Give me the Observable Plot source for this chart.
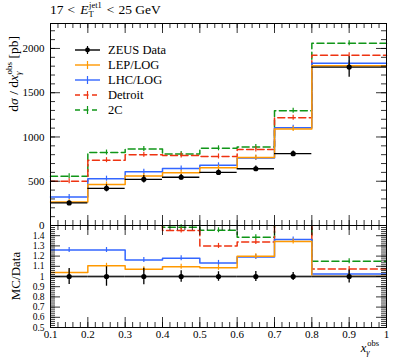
<!DOCTYPE html>
<html><head><meta charset="utf-8">
<script src="https://cdn.jsdelivr.net/npm/d3@7"></script>
<script src="https://cdn.jsdelivr.net/npm/@observablehq/plot@0.6"></script>
<style>
body{margin:0;background:#fff;}
#chart{position:relative;width:399px;height:360px;font-family:"Liberation Serif",serif;}
#chart svg{position:absolute;left:0;}
</style></head>
<body><div id="chart"></div>
<script>
// bins in x_gamma^obs
const binLo = [0.1, 0.2, 0.3, 0.4, 0.5, 0.6, 0.7, 0.8];
const binHi = [0.2, 0.3, 0.4, 0.5, 0.6, 0.7, 0.8, 1.0];
const binCenter = [0.15, 0.25, 0.35, 0.45, 0.55, 0.65, 0.75, 0.9];
// ZEUS data [pb]
const dataY   = [255, 420, 522, 545, 600, 641, 811, 1790];
const dataErr = [20, 40, 42, 31, 28, 32, 32, 116];
// MC predictions [pb]
const lepLog  = [265, 464, 559, 597, 651, 769, 1090, 1805];
const lhcLog  = [321, 529, 606, 643, 680, 763, 1105, 1832];
const detroit = [500, 738, 798, 791, 780, 858, 1218, 1922];
const twoC    = [556, 824, 865, 808, 872, 887, 1297, 2058];
// ticks
const mainYTicks = [0, 500, 1000, 1500, 2000];
const ratioYTicks = [0.5, 0.6, 0.7, 0.8, 0.9, 1, 1.1, 1.2, 1.3, 1.4];
const xTicks = [0.1, 0.2, 0.3, 0.4, 0.5, 0.6, 0.7, 0.8, 0.9, 1];

const series = [
  {name: "2C", vals: twoC, color: "#109618", dash: "7,3.5"},
  {name: "Detroit", vals: detroit, color: "#EE3311", dash: "7,3.5"},
  {name: "LHC/LOG", vals: lhcLog, color: "#3366FF", dash: null},
  {name: "LEP/LOG", vals: lepLog, color: "#FF9900", dash: null}
];

const steps = vals => vals.flatMap((v, i) => [{x: binLo[i], y: v}, {x: binHi[i], y: v}]);
const centers = vals => vals.map((v, i) => ({x: binCenter[i], y: v}));
const dataRows = dataY.map((v, i) => ({lo: binLo[i], hi: binHi[i], x: binCenter[i], y: v, e: dataErr[i], r: 1, re: dataErr[i] / v}));

const minorX = d3.range(0.1, 1.0001, 0.02).map(d => +d.toFixed(2));
const minorMain = d3.range(0, 2201, 100);
const minorRatio = d3.range(0.5, 1.5001, 0.02).map(d => +d.toFixed(2));

const fontFam = "Liberation Serif";
const style = {fontFamily: fontFam, fontSize: "11px", background: "transparent", overflow: "visible", color: "#000"};
const fmt = d => String(+(+d).toFixed(1));

function tickMarks(xMinor, yMajor, yMinor, plotW, plotH) {
  return [
    Plot.tickX(xTicks, {x: d => d, insetTop: plotH - 10, stroke: "#000", strokeWidth: 0.8}),
    Plot.tickX(xTicks, {x: d => d, insetBottom: plotH - 10, stroke: "#000", strokeWidth: 0.8}),
    Plot.tickX(xMinor, {x: d => d, insetTop: plotH - 5, stroke: "#000", strokeWidth: 0.8}),
    Plot.tickX(xMinor, {x: d => d, insetBottom: plotH - 5, stroke: "#000", strokeWidth: 0.8}),
    Plot.tickY(yMajor, {y: d => d, insetRight: plotW - 10, stroke: "#000", strokeWidth: 0.8}),
    Plot.tickY(yMajor, {y: d => d, insetLeft: plotW - 10, stroke: "#000", strokeWidth: 0.8}),
    Plot.tickY(yMinor, {y: d => d, insetRight: plotW - 5, stroke: "#000", strokeWidth: 0.8}),
    Plot.tickY(yMinor, {y: d => d, insetLeft: plotW - 5, stroke: "#000", strokeWidth: 0.8})
  ];
}

const plotW = 399 - 50 - 13;

const mainPlot = Plot.plot({
  width: 399, height: 226,
  marginLeft: 50, marginRight: 13, marginTop: 23, marginBottom: 1,
  x: {domain: [0.1, 1], axis: null},
  y: {domain: [0, 2282], axis: null},
  style,
  marks: [
    ...series.flatMap(s => [
      Plot.line(steps(s.vals), {x: "x", y: "y", stroke: s.color, strokeWidth: 1.5, strokeDasharray: s.dash}),
      Plot.ruleX(centers(s.vals), {x: "x", y1: "y", y2: "y", insetTop: 2.5, insetBottom: 2.5, stroke: s.color, strokeWidth: 1.2})
    ]),
    Plot.ruleY(dataRows, {x1: "lo", x2: "hi", y: "y", stroke: "#000", strokeWidth: 1.3}),
    Plot.ruleX(dataRows, {x: "x", y1: d => d.y - d.e, y2: d => d.y + d.e, stroke: "#000", strokeWidth: 1.3}),
    Plot.dot(dataRows, {x: "x", y: "y", r: 2.6, fill: "#000", stroke: "none"}),
    ...tickMarks(minorX, mainYTicks, minorMain, plotW, 202),
    Plot.axisY({ticks: mainYTicks, tickSize: 0, tickPadding: 6, tickFormat: d => String(d), label: null, fontSize: 11}),
    Plot.frame({stroke: "#000", strokeWidth: 1})
  ]
});

const ratioPlot = Plot.plot({
  width: 399, height: 135,
  marginLeft: 50, marginRight: 13, marginTop: 0, marginBottom: 33,
  x: {domain: [0.1, 1], axis: null},
  y: {domain: [0.5, 1.5], axis: null},
  style,
  marks: [
    ...series.flatMap(s => {
      const r = s.vals.map((v, i) => v / dataY[i]);
      return [
        Plot.line(steps(r), {x: "x", y: "y", stroke: s.color, strokeWidth: 1.5, strokeDasharray: s.dash, clip: true}),
        Plot.ruleX(centers(r).filter(d => d.y < 1.49), {x: "x", y1: "y", y2: "y", insetTop: 2.5, insetBottom: 2.5, stroke: s.color, strokeWidth: 1.2})
      ];
    }),
    Plot.ruleY(dataRows, {x1: "lo", x2: "hi", y: "r", stroke: "#999", strokeWidth: 2.4}),
    Plot.ruleY(dataRows, {x1: "lo", x2: "hi", y: "r", stroke: "#222", strokeWidth: 1}),
    Plot.ruleX(dataRows, {x: "x", y1: d => 1 - d.re, y2: d => 1 + d.re, stroke: "#000", strokeWidth: 1.3}),
    Plot.dot(dataRows, {x: "x", y: "r", r: 2.6, fill: "#000", stroke: "none"}),
    ...tickMarks(minorX, ratioYTicks, minorRatio, plotW, 102),
    Plot.axisY({ticks: ratioYTicks, tickSize: 0, tickPadding: 6, tickFormat: fmt, label: null, fontSize: 9.5}),
    Plot.axisX({ticks: xTicks, tickSize: 0, tickPadding: 3, tickFormat: fmt, label: null, fontSize: 11}),
    Plot.frame({stroke: "#000", strokeWidth: 1})
  ]
});

const chart = document.getElementById("chart");
mainPlot.style.top = "0px";
ratioPlot.style.top = "225px";
chart.appendChild(ratioPlot);
chart.appendChild(mainPlot);

// title
const ms = d3.select(mainPlot);
const title = ms.append("text").attr("x", 50).attr("y", 14).attr("text-anchor", "start").attr("font-size", 13.5).attr("font-family", fontFam).attr("fill", "#000");
title.append("tspan").text("17");
title.append("tspan").attr("dx", 4).text("<");
title.append("tspan").attr("dx", 5).attr("font-style", "italic").text("E");
title.append("tspan").attr("font-size", 8.5).attr("dy", 3).text("T");
title.append("tspan").attr("font-size", 8.5).attr("dx", -4.5).attr("dy", -9).text("jet1");
title.append("tspan").attr("dy", 6).attr("dx", 5).text("<");
title.append("tspan").attr("dx", 4).text("25 GeV");

// main y label
const yl = ms.append("text").attr("transform", "translate(18,36) rotate(-90)").attr("text-anchor", "end")
  .attr("font-size", 13.5).attr("font-family", fontFam).attr("fill", "#000");
yl.append("tspan").text("d");
yl.append("tspan").attr("font-style", "italic").text("σ");
yl.append("tspan").text(" / d");
yl.append("tspan").attr("font-style", "italic").text("x");
yl.append("tspan").attr("font-size", 9).attr("font-style", "italic").attr("dy", 3).text("γ");
yl.append("tspan").attr("font-size", 9).attr("dx", -3).attr("dy", -9).text("obs");
yl.append("tspan").attr("dy", 6).text(" [pb]");

// legend
const legendItems = [
  {name: "ZEUS Data", color: "#000", dash: null, data: true},
  {name: "LEP/LOG", color: "#FF9900", dash: null},
  {name: "LHC/LOG", color: "#3366FF", dash: null},
  {name: "Detroit", color: "#EE3311", dash: "5,3.5"},
  {name: "2C", color: "#109618", dash: "5,3.5"}
];
const lg = ms.append("g");
legendItems.forEach((it, i) => {
  const y = 50 + i * 15;
  lg.append("line").attr("x1", 75).attr("x2", 100).attr("y1", y).attr("y2", y)
    .attr("stroke", it.color).attr("stroke-width", 1.4).attr("stroke-dasharray", it.dash);
  lg.append("line").attr("x1", 87.5).attr("x2", 87.5).attr("y1", y - 4).attr("y2", y + 4)
    .attr("stroke", it.color).attr("stroke-width", 1.2);
  if (it.data) lg.append("circle").attr("cx", 87.5).attr("cy", y).attr("r", 2.4).attr("fill", "#000");
  lg.append("text").attr("x", 108).attr("y", y + 4).attr("text-anchor", "start").attr("font-size", 12.5).attr("font-family", fontFam).attr("fill", "#000").text(it.name);
});

// ratio labels
const rs = d3.select(ratioPlot);
rs.append("text").attr("transform", "translate(20,51) rotate(-90)").attr("text-anchor", "middle")
  .attr("font-size", 13).attr("font-family", fontFam).attr("fill", "#000").text("MC/Data");
const xl = rs.append("text").attr("x", 379).attr("y", 127).attr("text-anchor", "end")
  .attr("font-size", 12.5).attr("font-family", fontFam).attr("fill", "#000");
xl.append("tspan").attr("font-style", "italic").text("x");
xl.append("tspan").attr("font-size", 8.5).attr("font-style", "italic").attr("dy", 3).text("γ");
xl.append("tspan").attr("font-size", 8.5).attr("dx", -2.5).attr("dy", -9.5).text("obs");
</script>
</body></html>
